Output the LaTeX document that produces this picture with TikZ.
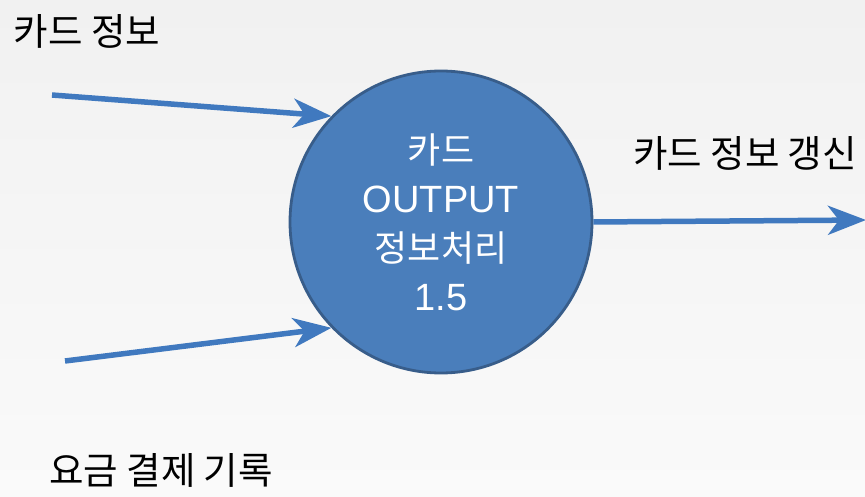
\documentclass[tikz,border=0pt]{standalone}
\usepackage{fontspec}
\setmainfont{Liberation Sans}
\newfontfamily\kr{Noto Sans CJK KR}
\usetikzlibrary{arrows.meta}
\definecolor{procfill}{HTML}{4A7EBB}
\definecolor{procedge}{HTML}{385D8A}
\definecolor{flowcol}{HTML}{4079BF}
\definecolor{bgtop}{HTML}{F1F1F1}
\definecolor{bgbot}{HTML}{FAFAFA}
\tikzset{
  process/.style={circle, fill=procfill, draw=procedge, line width=2.8pt,
    minimum size=302pt, inner sep=0pt, text=white, align=center,
    font=\fontsize{38}{49}\selectfont},
  flow/.style={draw=flowcol, line width=5.5pt,
    -{Stealth[length=38pt, width=29pt, inset=11pt]}},
  flowlabel/.style={font=\kr\fontsize{37.5}{44}\selectfont, text=black, inner sep=0pt}
}
\begin{document}
\begin{tikzpicture}[x=1pt,y=-1pt]
\useasboundingbox (0,0) rectangle (865,497);
\shade[top color=bgtop, bottom color=bgbot] (0,0) rectangle (865,497);
\node[process] (p) at (441,222) {%
  {\kr\fontsize{36}{49}\selectfont 카드}\\
  OUTPUT\\
  {\kr\fontsize{36}{49}\selectfont 정보처리}\\
  1.5};
\coordinate (in1) at (52,95);
\coordinate (in2) at (65,361);
\coordinate (out1) at (866,220);
\draw[flow] (in1) -- (p.136);
\draw[flow] (in2) -- (p.224);
\draw[flow] (p.east) -- (out1);
\node[flowlabel] (l1) at (87,31) {카드 정보};
\node[flowlabel] (l2) at (745,153) {카드 정보 갱신};
\node[flowlabel] (l3) at (161,470) {요금 결제 기록};
\end{tikzpicture}
\end{document}
